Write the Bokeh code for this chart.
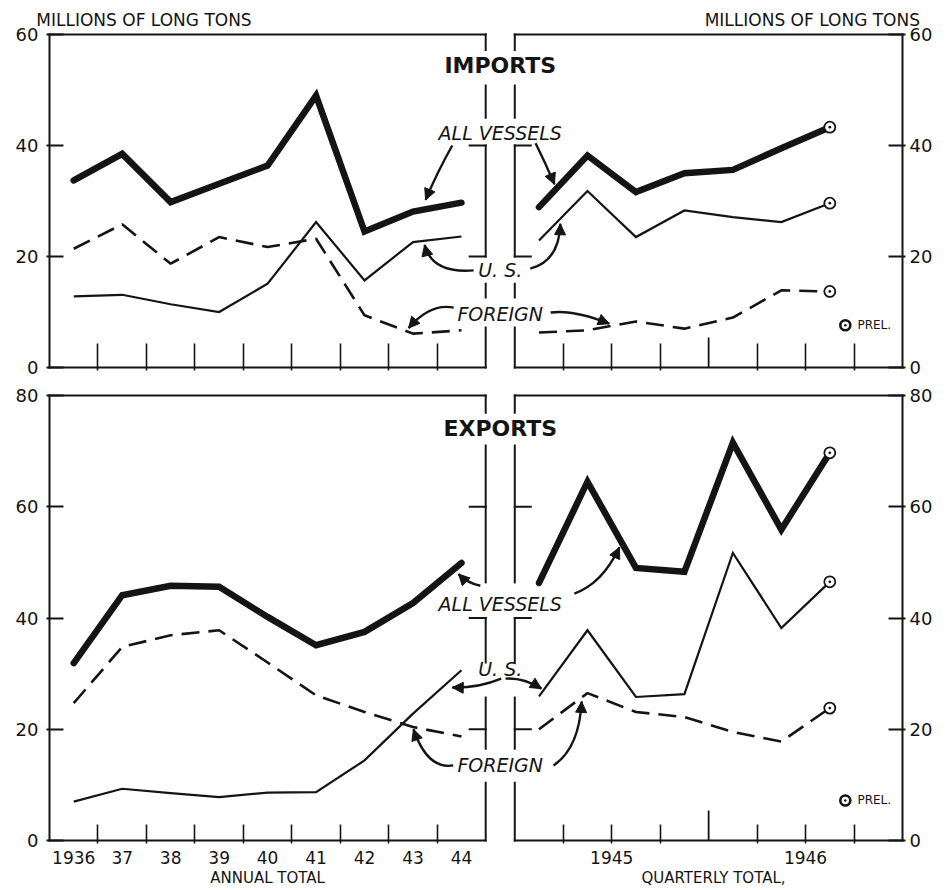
from bokeh.plotting import figure
from bokeh.layouts import column
from bokeh.models import Range1d, LinearAxis, FixedTicker, Label, Arrow, NormalHead
from bokeh.embed import file_html
from bokeh.resources import INLINE

# ---------------- data ----------------
years = [1936, 1937, 1938, 1939, 1940, 1941, 1942, 1943, 1944]
year_labels = ["1936", "37", "38", "39", "40", "41", "42", "43", "44"]
quarters = ["1945-I", "1945-II", "1945-III", "1945-IV", "1946-I", "1946-II", "1946-III"]
quarter_year_labels = ["1945", "1946"]
imports_yticks = [0, 20, 40, 60]
exports_yticks = [0, 20, 40, 60, 80]

imports_all_annual = [33.7, 38.5, 29.8, 33.1, 36.4, 49.0, 24.5, 28.1, 29.7]
imports_us_annual = [12.8, 13.1, 11.4, 10.0, 15.1, 26.2, 15.7, 22.6, 23.6]
imports_foreign_annual = [21.4, 25.8, 18.7, 23.5, 21.7, 23.2, 9.4, 6.1, 6.7]
imports_all_quarterly = [28.9, 38.2, 31.6, 35.0, 35.6, 39.5, 43.3]
imports_us_quarterly = [22.9, 31.8, 23.5, 28.3, 27.1, 26.2, 29.6]
imports_foreign_quarterly = [6.3, 6.7, 8.3, 7.0, 9.0, 13.9, 13.7]

exports_all_annual = [31.9, 44.1, 45.8, 45.6, 40.2, 35.1, 37.5, 42.7, 49.9]
exports_us_annual = [7.0, 9.3, 8.5, 7.8, 8.6, 8.7, 14.4, 22.8, 30.6]
exports_foreign_annual = [24.7, 34.8, 36.9, 37.8, 32.0, 26.1, 23.1, 20.4, 18.7]
exports_all_quarterly = [46.3, 64.5, 49.0, 48.3, 71.5, 55.9, 69.7]
exports_us_quarterly = [25.9, 37.8, 25.8, 26.3, 51.7, 38.2, 46.5]
exports_foreign_quarterly = [20.0, 26.5, 23.1, 22.2, 19.5, 17.8, 23.8]

unit_label = "MILLIONS OF LONG TONS"
period_labels = ["ANNUAL TOTAL", "QUARTERLY TOTAL,"]

# ---------------- layout constants ----------------
FONT = "DejaVu Sans"
INK = "#141414"
PX_SLOT = 48.47
PAD = 3
N_LEFT = len(years)
GAP = 0.6
RIGHT0 = N_LEFT + GAP
N_RIGHT = 8
XMAX = RIGHT0 + N_RIGHT
MID = (N_LEFT + RIGHT0) / 2

xa = [i + 0.5 for i in range(len(years))]
xq = [RIGHT0 + i + 0.5 for i in range(len(quarters))]
year_pos = [RIGHT0 + 4 * k + 2 for k in range(len(quarter_year_labels))]


def build(ymax, yticks, ppu, height, btop, bbot, series, title, title_y, lab_y,
          breaks, inner_ticks, arrows, xtick_px, show_xlabels, prel_y):
    xpad = PAD / PX_SLOT
    ypad = PAD / ppu
    p = figure(width=938, height=height,
               x_range=Range1d(-xpad, XMAX + xpad), y_range=Range1d(-ypad, ymax + ypad),
               x_axis_location=None, y_axis_location=None,
               output_backend="svg", toolbar_location=None,
               min_border_left=46, min_border_right=33,
               min_border_top=btop, min_border_bottom=bbot)
    p.outline_line_color = None
    p.grid.visible = False

    for side, standoff in (("left", 8), ("right", 4)):
        ax = LinearAxis(ticker=FixedTicker(ticks=yticks, minor_ticks=[]),
                        axis_line_color=None, major_tick_in=14 + PAD, major_tick_out=0,
                        major_tick_line_color=INK, major_tick_line_width=2,
                        minor_tick_line_color=None, major_label_standoff=standoff,
                        major_label_text_font=FONT, major_label_text_font_size="18px",
                        major_label_text_color=INK)
        p.add_layout(ax, side)

    bounds = [float(i) for i in range(1, N_LEFT)] + \
             [RIGHT0 + i for i in range(1, N_RIGHT) if i != 4]
    if show_xlabels:
        label_pos = xa + year_pos
        overrides = dict(zip(label_pos, year_labels + quarter_year_labels))
    else:
        label_pos = []
        overrides = {}
    bx = LinearAxis(ticker=FixedTicker(ticks=label_pos, minor_ticks=bounds),
                    axis_line_color=None, major_tick_line_color=None,
                    major_tick_in=0, major_tick_out=0,
                    minor_tick_in=xtick_px + PAD, minor_tick_out=0,
                    minor_tick_line_color=INK, minor_tick_line_width=1.6,
                    major_label_overrides=overrides, major_label_standoff=7 if show_xlabels else 0,
                    major_label_text_font=FONT,
                    major_label_text_font_size="17px" if show_xlabels else "0px",
                    major_label_text_color=INK)
    p.add_layout(bx, "below")
    # taller tick at the 1945/1946 boundary
    p.segment(x0=[RIGHT0 + 4], y0=[0], x1=[RIGHT0 + 4], y1=[30 / ppu],
              line_color=INK, line_width=1.8)

    # frame with break in the middle
    x0s, y0s, x1s, y1s = [], [], [], []

    def seg(a, b, c, d):
        x0s.append(a); y0s.append(b); x1s.append(c); y1s.append(d)

    seg(0, 0, 0, ymax)
    seg(XMAX, 0, XMAX, ymax)
    for yy in (0, ymax):
        seg(0, yy, N_LEFT, yy)
        seg(RIGHT0, yy, XMAX, yy)
    for lo, hi in breaks:
        seg(N_LEFT, lo, N_LEFT, hi)
        seg(RIGHT0, lo, RIGHT0, hi)
    tl = 16 / PX_SLOT
    for t in inner_ticks:
        seg(N_LEFT - tl, t, N_LEFT, t)
        seg(RIGHT0, t, RIGHT0 + tl, t)
    p.segment(x0=x0s, y0=y0s, x1=x1s, y1=y1s, line_color=INK, line_width=2, line_cap="square")

    all_a, us_a, fo_a, all_q, us_q, fo_q = series
    for xs, ys in ((xa, fo_a), (xq, fo_q)):
        p.line(xs, ys, line_color=INK, line_width=2.6, line_dash="18 9")
    for xs, ys in ((xa, us_a), (xq, us_q)):
        p.line(xs, ys, line_color=INK, line_width=2.2, line_join="miter")
    for xs, ys in ((xa, all_a), (xq, all_q)):
        p.line(xs, ys, line_color=INK, line_width=6.5, line_join="miter", line_cap="round")

    p.scatter([xq[-1]] * 3, [all_q[-1], us_q[-1], fo_q[-1]], marker="circle_dot", size=11,
              fill_color="white", line_color=INK, line_width=1.8)

    # preliminary legend
    p.scatter([16.42], [prel_y], marker="circle_dot", size=10, fill_color="white",
              line_color=INK, line_width=2.6)
    p.add_layout(Label(x=16.67, y=prel_y, text="PREL.", text_align="left", text_baseline="middle",
                       text_font=FONT, text_font_size="12px", text_color=INK))

    # titles and series labels
    p.add_layout(Label(x=MID, y=title_y, text=title, text_align="center", text_baseline="middle",
                       text_font=FONT, text_font_size="22px", text_font_style="bold", text_color=INK))
    for txt, yy in zip(["ALL VESSELS", "U. S.", "FOREIGN"], lab_y):
        p.add_layout(Label(x=MID, y=yy, text=txt, text_align="center", text_baseline="middle",
                           text_font=FONT, text_font_size="19px", text_font_style="italic",
                           text_color=INK))

    # curved arrows
    p.quadratic(x0=[a[0][0] for a in arrows], y0=[a[0][1] for a in arrows],
                x1=[a[2][0] for a in arrows], y1=[a[2][1] for a in arrows],
                cx=[a[1][0] for a in arrows], cy=[a[1][1] for a in arrows],
                line_color=INK, line_width=2.4)
    for p0, c, p1 in arrows:
        t = 0.2
        sx = p1[0] - t * (p1[0] - c[0])
        sy = p1[1] - t * (p1[1] - c[1])
        p.add_layout(Arrow(end=NormalHead(size=11, fill_color=INK, line_color=INK, line_width=1),
                           x_start=sx, y_start=sy, x_end=p1[0], y_end=p1[1],
                           line_alpha=0))
    return p


imp_arrows = [
    ((8.31, 40.0), (8.0, 35.2), (7.76, 30.2)),
    ((10.03, 40.4), (10.24, 36.7), (10.42, 33.0)),
    ((8.75, 17.5), (7.89, 16.9), (7.74, 22.1)),
    ((9.92, 17.8), (10.52, 19.2), (10.54, 25.9)),
    ((8.34, 10.8), (7.85, 11.6), (7.41, 7.1)),
    ((10.34, 9.9), (10.80, 10.5), (11.55, 7.9)),
]
exp_arrows = [
    ((8.89, 45.8), (8.62, 46.3), (8.44, 47.9)),
    ((10.83, 44.4), (11.40, 46.1), (11.76, 52.7)),
    ((9.32, 29.1), (8.85, 27.4), (8.31, 27.5)),
    ((9.41, 29.1), (9.78, 29.3), (10.15, 27.3)),
    ((8.33, 13.5), (7.80, 12.7), (7.51, 20.0)),
    ((10.40, 13.5), (10.93, 16.6), (10.98, 25.0)),
]

p1 = build(60, imports_yticks, 5.55, 377, 31, 7,
           (imports_all_annual, imports_us_annual, imports_foreign_annual,
            imports_all_quarterly, imports_us_quarterly, imports_foreign_quarterly),
           "IMPORTS", 54.4, [42.3, 17.5, 9.7],
           [(57.2, 60), (45.0, 50.8), (20, 40), (12.6, 15.1), (0, 7.2)], [20, 40],
           imp_arrows, 24, False, 7.6)
# unit captions above the frame, as an axis on top
unit_pos = [1.95, 15.74]
top_ax = LinearAxis(ticker=FixedTicker(ticks=unit_pos, minor_ticks=[]),
                    major_label_overrides=dict(zip(unit_pos, [unit_label, unit_label])),
                    axis_line_color=None, major_tick_line_color=None, minor_tick_line_color=None,
                    major_tick_in=0, major_tick_out=0,
                    major_label_standoff=2, major_label_text_font=FONT,
                    major_label_text_font_size="17px", major_label_text_color=INK)
p1.add_layout(top_ax, "above")

p2 = build(80, exports_yticks, 5.5625, 513, 15, 47,
           (exports_all_annual, exports_us_annual, exports_foreign_annual,
            exports_all_quarterly, exports_us_quarterly, exports_foreign_quarterly),
           "EXPORTS", 74.1, [42.6, 30.9, 13.5],
           [(76.9, 80), (46.4, 71.0), (32.0, 40.0), (16.5, 25.7), (0, 10.4)], [20, 40, 60],
           exp_arrows, 16, True, 7.2)
period_pos = [N_LEFT / 2, RIGHT0 + N_RIGHT / 2 + 0.1]
per_ax = LinearAxis(ticker=FixedTicker(ticks=period_pos, minor_ticks=[]),
                    major_label_overrides=dict(zip(period_pos, period_labels)),
                    axis_line_color=None, major_tick_line_color=None, minor_tick_line_color=None,
                    major_tick_in=0, major_tick_out=0,
                    major_label_standoff=2, major_label_text_font=FONT,
                    major_label_text_font_size="15px", major_label_text_color=INK)
p2.add_layout(per_ax, "below")

layout = column(p1, p2, spacing=0)
open("out.html", "w").write(file_html(layout, INLINE))
